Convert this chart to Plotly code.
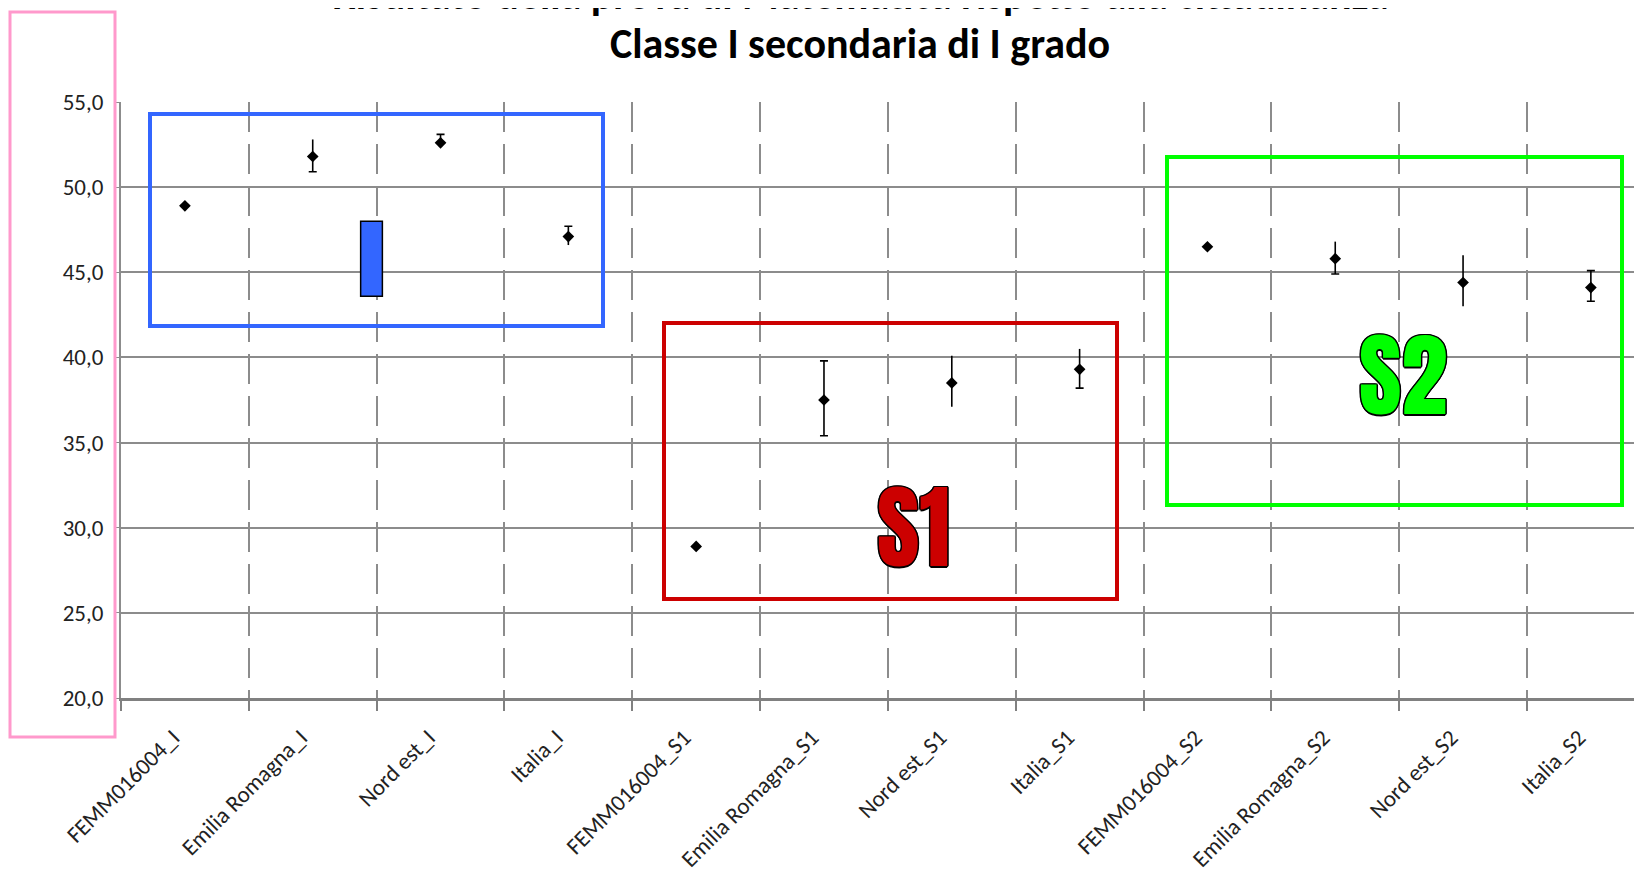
import plotly.graph_objects as go

# Data
categories = ["FEMM016004_I", "Emilia Romagna_I", "Nord est_I", "Italia_I",
              "FEMM016004_S1", "Emilia Romagna_S1", "Nord est_S1", "Italia_S1",
              "FEMM016004_S2", "Emilia Romagna_S2", "Nord est_S2", "Italia_S2"]
means = [48.9, 51.8, 52.6, 47.1, 28.9, 37.5, 38.5, 39.3, 46.5, 45.8, 44.4, 44.1]
upper = [48.9, 52.8, 53.1, 47.7, 28.9, 39.8, 40.1, 40.5, 46.5, 46.8, 46.0, 45.1]
lower = [48.9, 50.9, 52.4, 46.6, 28.9, 35.4, 37.1, 38.2, 46.5, 44.9, 43.0, 43.3]
upper_cap = [False, False, True, True, False, True, False, False, False, False, False, True]
lower_cap = [False, True, False, False, False, True, False, True, False, True, False, True]

# stray bar drawn between Emilia Romagna_I and Nord est_I
bar_category = ["Emilia Romagna_I"]
bar_low = [43.6]
bar_high = [48.0]

# page is offset by the 8px body margin, so work in page pixels and shift
OFF = 8
W, H = 1642 - OFF, 869 - OFF
ML, MR, MT, MB = 121 - OFF, 0, 102 - OFF, 869 - 698


def px(x):
    return (x - OFF - ML) / (W - ML - MR)


def py(y):
    return (H - MB - (y - OFF)) / (H - MT - MB)


fig = go.Figure()

fig.add_trace(go.Bar(
    x=bar_category, base=bar_low,
    y=[h - l for h, l in zip(bar_high, bar_low)],
    width=0.17, offset=0.375,
    marker=dict(color="#3366FF", line=dict(color="black", width=1.5)),
))

# error bars, split so caps appear only where the original has them
for side, capflags in (("up", upper_cap), ("down", lower_cap)):
    for capped in (True, False):
        xs, ys, ups, downs = [], [], [], []
        for c, m, u, l, f in zip(categories, means, upper, lower, capflags):
            if f != capped:
                continue
            xs.append(c)
            ys.append(m)
            ups.append(u - m if side == "up" else 0)
            downs.append(m - l if side == "down" else 0)
        fig.add_trace(go.Scatter(
            x=xs, y=ys, mode="markers",
            marker=dict(size=1, opacity=0),
            error_y=dict(type="data", symmetric=False, array=ups,
                         arrayminus=downs, color="black", thickness=1.6,
                         width=4 if capped else 0),
        ))

fig.add_trace(go.Scatter(
    x=categories, y=means, mode="markers",
    marker=dict(symbol="diamond", size=9, color="black"),
))

outline = ("1.5px 0 0 #000, -1.5px 0 0 #000, 0 1.5px 0 #000, 0 -1.5px 0 #000, "
           "1px 1px 0 #000, -1px -1px 0 #000, 1px -1px 0 #000, -1px 1px 0 #000")

boxes = [
    (10, 12, 115, 737, "#FF99CC", 3),
    (150, 114, 603, 326, "#3366FF", 4),
    (664, 323, 1117, 599, "#CC0000", 4),
    (1167, 157, 1622, 505, "#00FF00", 4),
]
shapes = [dict(type="rect", xref="paper", yref="paper",
               x0=px(x0), x1=px(x1), y0=py(y1), y1=py(y0),
               line=dict(color=col, width=w), layer="above")
          for x0, y0, x1, y1, col, w in boxes]

TITLE_FONT = "Carlito, Open Sans, sans-serif"
BIG_FONT = "Anton, Oswald, Barlow Condensed, Inter, sans-serif"

annotations = [
    dict(text="<b>Risultato della prova di Matematica rispetto alla cittadinanza</b>",
         x=px(860), y=py(22), xref="paper", yref="paper", showarrow=False,
         xanchor="center", yanchor="bottom",
         font=dict(family=TITLE_FONT, size=42, color="black")),
    dict(text="<b>Classe I secondaria di I grado</b>",
         x=px(860), y=py(71), xref="paper", yref="paper", showarrow=False,
         xanchor="center", yanchor="bottom",
         font=dict(family=TITLE_FONT, size=42, color="black")),
    dict(text="S1", x=px(913), y=py(527), xref="paper", yref="paper",
         showarrow=False, xanchor="center", yanchor="middle",
         font=dict(family=BIG_FONT, size=92,
                   color="#CC0000", shadow=outline)),
    dict(text="S2", x=px(1403), y=py(375), xref="paper", yref="paper",
         showarrow=False, xanchor="center", yanchor="middle",
         font=dict(family=BIG_FONT, size=92,
                   color="#00FF00", shadow=outline)),
]

fig.update_layout(
    width=W, height=H,
    margin=dict(l=ML, r=MR, t=MT, b=MB, autoexpand=False),
    paper_bgcolor="white", plot_bgcolor="white",
    showlegend=False, hovermode=False,
    separators=",.",
    font=dict(family=TITLE_FONT, color="#222"),
    shapes=shapes, annotations=annotations,
    xaxis=dict(
        type="category", categoryorder="array", categoryarray=categories,
        range=[-0.5, 11.4], tickson="boundaries", automargin=False,
        showgrid=True, gridcolor="#8c8c8c", gridwidth=1.5, griddash="30px,12px",
        showline=True, linecolor="#808080", linewidth=3,
        ticks="outside", ticklen=10, tickcolor="#808080", tickwidth=1.5,
        tickangle=-45, tickfont=dict(size=23, color="#222"),
        ticklabelstandoff=14, ticklabelshift=-12,
    ),
    yaxis=dict(
        range=[20, 55], dtick=5, tickformat=".1f", automargin=False,
        showgrid=True, gridcolor="#8c8c8c", gridwidth=1.5, zeroline=False,
        showline=True, linecolor="#8c8c8c", linewidth=2,
        ticks="outside", ticklen=5, tickcolor="#8c8c8c",
        tickfont=dict(size=23, color="#222"), ticklabelstandoff=6,
    ),
)

fig.write_html("out.html")
